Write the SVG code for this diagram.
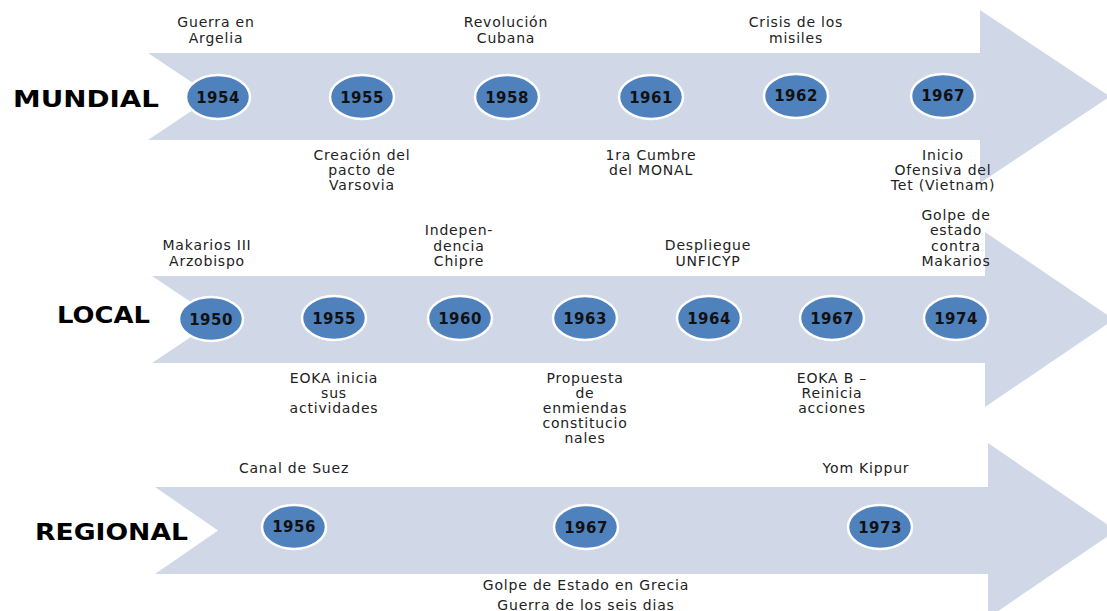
<svg xmlns="http://www.w3.org/2000/svg" width="1107" height="611" viewBox="0 0 1107 611">
<style>
.band{fill:#D0D8E8;}
.dot{fill:#4F81BD;stroke:#FFFFFF;stroke-width:2.5;}
.yr{font-family:"DejaVu Sans",sans-serif;font-weight:bold;font-size:15px;letter-spacing:0.5px;fill:#111;text-anchor:middle;}
.lbl{font-family:"DejaVu Sans",sans-serif;font-size:14px;letter-spacing:0.8px;fill:#222;text-anchor:middle;}
.big{font-family:"DejaVu Sans",sans-serif;font-weight:bold;font-size:23px;fill:#000;}
</style>
<rect width="1107" height="611" fill="#FFFFFF"/>

<g id="arrow-mundial">
<path class="band" d="M148,53 L980,53 L980,10 L1110,96.5 L980,183 L980,140 L148,140 L213,96.5 Z"/>
<text class="big" x="13" y="107" textLength="146" lengthAdjust="spacingAndGlyphs">MUNDIAL</text>
</g>
<g id="arrow-local">
<path class="band" d="M152,276 L985,276 L985,232 L1114,319.5 L985,407 L985,363 L152,363 L217,319.5 Z"/>
<text class="big" x="57" y="323" textLength="93" lengthAdjust="spacingAndGlyphs">LOCAL</text>
</g>
<g id="arrow-regional">
<path class="band" d="M155,487 L988,487 L988,443 L1116,530.5 L988,618 L988,574 L155,574 L218,530.5 Z"/>
<text class="big" x="35" y="540" textLength="153" lengthAdjust="spacingAndGlyphs">REGIONAL</text>
</g>

<!-- MUNDIAL events -->
<g id="m1954">
<ellipse class="dot" cx="218" cy="97" rx="32" ry="22"/>
<text class="yr" x="218" y="103">1954</text>
<text class="lbl" x="216" y="27">Guerra en</text>
<text class="lbl" x="216" y="43">Argelia</text>
</g>
<g id="m1955">
<ellipse class="dot" cx="362" cy="97" rx="32" ry="22"/>
<text class="yr" x="362" y="103">1955</text>
<text class="lbl" x="362" y="160">Creación del</text>
<text class="lbl" x="362" y="175">pacto de</text>
<text class="lbl" x="362" y="190">Varsovia</text>
</g>
<g id="m1958">
<ellipse class="dot" cx="507" cy="97" rx="32" ry="22"/>
<text class="yr" x="507" y="103">1958</text>
<text class="lbl" x="506" y="27">Revolución</text>
<text class="lbl" x="506" y="43">Cubana</text>
</g>
<g id="m1961">
<ellipse class="dot" cx="651" cy="97" rx="32" ry="22"/>
<text class="yr" x="651" y="103">1961</text>
<text class="lbl" x="651" y="160">1ra Cumbre</text>
<text class="lbl" x="651" y="175">del MONAL</text>
</g>
<g id="m1962">
<ellipse class="dot" cx="796" cy="96" rx="32" ry="22"/>
<text class="yr" x="796" y="101">1962</text>
<text class="lbl" x="796" y="27">Crisis de los</text>
<text class="lbl" x="796" y="43">misiles</text>
</g>
<g id="m1967">
<ellipse class="dot" cx="943" cy="96" rx="32" ry="22"/>
<text class="yr" x="943" y="101">1967</text>
<text class="lbl" x="943" y="160">Inicio</text>
<text class="lbl" x="943" y="175">Ofensiva del</text>
<text class="lbl" x="943" y="190">Tet (Vietnam)</text>
</g>

<!-- LOCAL events -->
<g id="l1950">
<ellipse class="dot" cx="211" cy="319" rx="32" ry="22"/>
<text class="yr" x="211" y="325">1950</text>
<text class="lbl" x="207" y="250">Makarios III</text>
<text class="lbl" x="207" y="266">Arzobispo</text>
</g>
<g id="l1955">
<ellipse class="dot" cx="334" cy="318" rx="32" ry="22"/>
<text class="yr" x="334" y="324">1955</text>
<text class="lbl" x="334" y="383">EOKA inicia</text>
<text class="lbl" x="334" y="398">sus</text>
<text class="lbl" x="334" y="413">actividades</text>
</g>
<g id="l1960">
<ellipse class="dot" cx="460" cy="318" rx="32" ry="22"/>
<text class="yr" x="460" y="324">1960</text>
<text class="lbl" x="459" y="235">Indepen-</text>
<text class="lbl" x="459" y="251">dencia</text>
<text class="lbl" x="459" y="266">Chipre</text>
</g>
<g id="l1963">
<ellipse class="dot" cx="585" cy="318" rx="32" ry="22"/>
<text class="yr" x="585" y="324">1963</text>
<text class="lbl" x="585" y="383">Propuesta</text>
<text class="lbl" x="585" y="398">de</text>
<text class="lbl" x="585" y="413">enmiendas</text>
<text class="lbl" x="585" y="428">constitucio</text>
<text class="lbl" x="585" y="443">nales</text>
</g>
<g id="l1964">
<ellipse class="dot" cx="709" cy="318" rx="32" ry="22"/>
<text class="yr" x="709" y="324">1964</text>
<text class="lbl" x="708" y="250">Despliegue</text>
<text class="lbl" x="708" y="266">UNFICYP</text>
</g>
<g id="l1967">
<ellipse class="dot" cx="832" cy="318" rx="32" ry="22"/>
<text class="yr" x="832" y="324">1967</text>
<text class="lbl" x="832" y="383">EOKA B –</text>
<text class="lbl" x="832" y="398">Reinicia</text>
<text class="lbl" x="832" y="413">acciones</text>
</g>
<g id="l1974">
<ellipse class="dot" cx="956" cy="318" rx="32" ry="22"/>
<text class="yr" x="956" y="324">1974</text>
<text class="lbl" x="956" y="220">Golpe de</text>
<text class="lbl" x="956" y="235">estado</text>
<text class="lbl" x="956" y="251">contra</text>
<text class="lbl" x="956" y="266">Makarios</text>
</g>

<!-- REGIONAL events -->
<g id="r1956">
<ellipse class="dot" cx="294" cy="527" rx="32" ry="22"/>
<text class="yr" x="294" y="532">1956</text>
<text class="lbl" x="294" y="473">Canal de Suez</text>
</g>
<g id="r1967">
<ellipse class="dot" cx="586" cy="527" rx="32" ry="22"/>
<text class="yr" x="586" y="533">1967</text>
<text class="lbl" x="586" y="590">Golpe de Estado en Grecia</text>
<text class="lbl" x="586" y="610">Guerra de los seis dias</text>
</g>
<g id="r1973">
<ellipse class="dot" cx="880" cy="527" rx="32" ry="22"/>
<text class="yr" x="880" y="533">1973</text>
<text class="lbl" x="866" y="473">Yom Kippur</text>
</g>
</svg>
